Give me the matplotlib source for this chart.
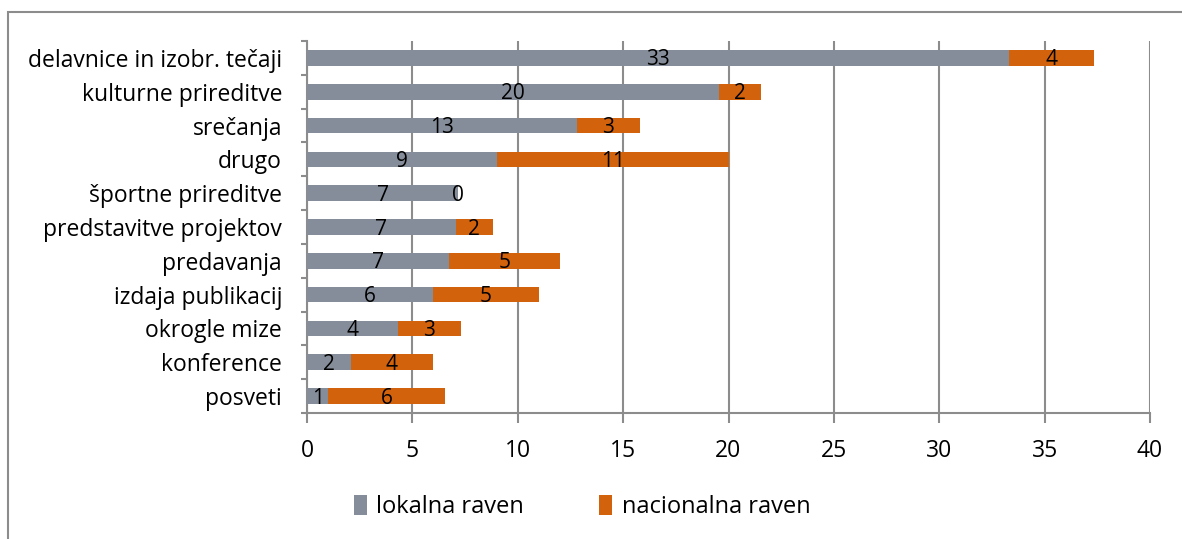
import numpy as np
import matplotlib.pyplot as plt
from matplotlib.patches import Rectangle
from matplotlib.ticker import MultipleLocator, FixedLocator

plt.rcParams['font.family'] = ['Open Sans', 'DejaVu Sans']

categories = ["delavnice in izobr. tečaji", "kulturne prireditve", "srečanja", "drugo",
              "športne prireditve", "predstavitve projektov", "predavanja",
              "izdaja publikacij", "okrogle mize", "konference", "posveti"]
lokalna = [33.3, 19.56, 12.8, 9.0, 7.17, 7.05, 6.74, 5.99, 4.3, 2.07, 1.01]
nacionalna = [4.05, 2.0, 3.0, 11.0, 0.0, 1.76, 5.27, 5.0, 3.02, 3.92, 5.55]
series_names = ["lokalna raven", "nacionalna raven"]

gray = '#858D9A'
orange = '#D2620C'
gridc = '#8C8C8C'

fig = plt.figure(figsize=(11.82, 5.39), dpi=100)
ax = fig.add_axes([307/1182, 1 - 413/539, (1150-307)/1182, (413-41)/539])

y = np.arange(len(categories))
b1 = ax.barh(y, lokalna, height=0.46, color=gray, label=series_names[0], zorder=3)
b2 = ax.barh(y, nacionalna, height=0.46, left=lokalna, color=orange, label=series_names[1], zorder=3)

for vals, lefts in ((lokalna, [0]*len(lokalna)), (nacionalna, lokalna)):
    for yi, v, l in zip(y, vals, lefts):
        ax.text(l + v/2, yi + 0.06, f"{v:.0f}", ha='center', va='center', fontsize=15, color='black', zorder=4)

ax.set_xlim(0, 40)
ax.set_ylim(len(categories) - 0.5, -0.5)
ax.xaxis.set_major_locator(MultipleLocator(5))
ax.grid(axis='x', color=gridc, linewidth=1.5, zorder=0)
ax.set_yticks(y)
ax.set_yticklabels(categories, fontsize=16.5)
ax.yaxis.set_minor_locator(FixedLocator(np.arange(-0.5, len(categories), 1)))
ax.tick_params(axis='y', which='major', length=0, pad=18)
ax.tick_params(axis='y', which='minor', length=4, width=1.5, color=gridc)
ax.tick_params(axis='x', which='major', length=7, width=1.5, color=gridc, labelsize=16.5, pad=12)

for s in ['top', 'right']:
    ax.spines[s].set_visible(False)
for s in ['left', 'bottom']:
    ax.spines[s].set_color(gridc)
    ax.spines[s].set_linewidth(1.5)

fig.legend(handles=[b1, b2], labels=series_names, loc='center', bbox_to_anchor=(582/1182, 1 - 507/539),
           ncol=2, frameon=False, fontsize=17, handlelength=0.55, handleheight=0.9, handletextpad=0.4,
           columnspacing=3.2)

fig.patches.append(Rectangle((8/1182, -0.1), 1.2, 1 - 12/539 + 0.1, transform=fig.transFigure,
                             fill=False, edgecolor='#8C8C8C', linewidth=1.5))

fig.savefig("out.png", dpi=100)
